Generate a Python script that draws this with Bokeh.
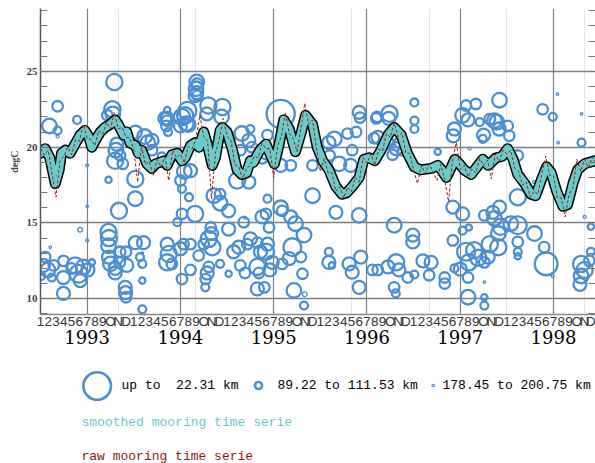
import numpy as np
from bokeh.plotting import figure
from bokeh.models import Range1d, LinearAxis, FixedTicker, Grid, ColumnDataSource
from bokeh.layouts import column
from bokeh.embed import file_html
from bokeh.resources import INLINE
from bokeh.core.properties import value

# ---------------- data ----------------
years = ["1993", "1994", "1995", "1996", "1997", "1998"]
month_labels = ["1", "2", "3", "4", "5", "6", "7", "8", "9", "O", "N", "D"]
y_ticks = [10, 15, 20, 25]

# smoothed mooring series (time in months since Jan 1993, degC)
smooth_t = [0.0, 0.6, 1.2, 1.9, 2.4, 2.7, 3.2, 3.8, 4.45, 5.1, 5.7, 6.2, 6.6, 7.0, 7.7, 8.3,
            8.95, 9.6, 10.0, 10.7, 11.1, 11.5, 12.2, 12.6, 13.0, 13.7, 14.3, 14.8, 15.9, 16.3,
            16.9, 17.6, 18.2, 18.6, 19.3, 19.9, 20.4, 21.0, 21.4, 22.1, 22.5, 23.1, 23.4, 24.0,
            24.7, 25.3, 25.9, 26.5, 27.0, 27.4, 28.1, 28.6, 29.0, 29.5, 30.1, 30.7, 31.3, 32.0,
            32.8, 33.5, 34.1, 35.0, 35.6, 36.3, 37.1, 38.0, 38.8, 39.4, 40.1, 41.0, 41.6, 42.3,
            43.0, 43.8, 44.7, 45.5, 46.4, 47.2, 48.1, 48.9, 50.3, 51.1, 51.6, 52.2, 52.6, 53.3,
            53.9, 54.5, 55.4, 56.3, 56.9, 57.6, 58.6, 59.4, 60.1, 60.8, 61.4, 62.3, 63.1, 63.7,
            64.4, 65.1, 65.7, 66.4, 67.2, 67.8, 68.5, 69.1, 70.0, 71.3, 72.0]
smooth_v = [19.6, 19.9, 19.3, 17.6, 18.5, 19.6, 19.8, 19.6, 20.2, 20.8, 21.1, 20.7, 20.0, 20.4,
            21.0, 21.3, 21.5, 21.8, 21.5, 20.8, 21.0, 20.3, 20.1, 19.6, 19.8, 18.9, 18.6, 18.9,
            19.1, 18.8, 19.5, 19.6, 19.1, 19.3, 20.1, 20.3, 20.0, 21.0, 20.3, 18.8, 19.3, 21.1,
            21.3, 21.0, 19.8, 18.5, 18.2, 18.3, 19.1, 19.0, 19.7, 20.0, 20.2, 19.6, 18.9, 20.2,
            21.8, 21.2, 19.7, 20.9, 22.1, 21.5, 20.0, 19.1, 18.5, 17.4, 16.9, 17.0, 17.4, 18.0,
            19.2, 19.3, 19.1, 19.8, 20.8, 21.3, 20.8, 19.6, 18.7, 18.5, 18.6, 18.8, 18.5, 18.0,
            18.4, 19.2, 18.9, 18.5, 18.2, 18.8, 19.2, 18.8, 19.3, 19.4, 19.9, 19.2, 18.2, 17.6,
            16.9, 16.8, 17.8, 18.7, 18.3, 17.1, 16.1, 16.2, 17.6, 18.5, 18.9, 19.1, 19.2]

# raw mooring series, sampled every half month from Jan 1993
raw_v = [19.9, 19.5, 19.8, 18.2, 16.7, 19.1, 19.4, 20.0, 19.5, 20.5, 20.4, 21.5, 20.6, 20.5,
         20.1, 21.1, 20.85, 21.65, 21.2, 22.3, 21.2, 21.3, 20.65, 20.6, 19.85, 17.7, 20.1, 18.85,
         19.05, 18.1, 19.2, 18.7, 19.35, 17.8, 19.8, 19.3, 19.55, 18.95, 20.05, 19.9, 20.55, 22.1,
         20.7, 20.4, 16.6, 19.6, 20.5, 21.9, 20.7, 20.45, 18.85, 18.7, 17.9, 18.6, 18.8, 19.4,
         19.3, 20.25, 19.9, 19.9, 18.0, 20.1, 20.7, 22.3, 20.9, 20.6, 19.7, 21.2, 22.9, 21.5,
         21.8, 19.95, 18.4, 19.25, 18.3, 18.3, 17.1, 17.4, 16.65, 17.35, 17.05, 18.0, 17.7, 19.3,
         18.95, 19.55, 18.8, 19.85, 19.75, 20.9, 20.65, 21.6, 20.7, 20.95, 19.6, 19.6, 18.5, 17.6,
         18.8, 18.25, 18.9, 18.35, 17.8, 18.85, 17.85, 16.4, 19.15, 20.3, 18.55, 18.8, 18.05, 18.55,
         18.3, 19.25, 18.8, 19.15, 17.9, 19.55, 19.05, 19.8, 19.55, 19.8, 18.6, 18.4, 17.5, 17.7,
         16.7, 17.1, 16.9, 18.25, 19.4, 18.15, 18.1, 16.65, 16.65, 15.4, 16.9, 17.3, 19.2, 18.4,
         19.2, 18.65, 19.35, 18.85]
raw_t = [k * 0.5 for k in range(len(raw_v))]

# observations: time (months since Jan 1993), temperature (degC), distance (km)
obs_t = [9.5, 2.2, 1.15, 2.2, 2.2, 4.7, 9.25, 9.3, 12.2, 13.4, 13.8, 9.7, 9.8, 9.6, 10.25, 10.6,
         8.75, 12.2, 12.2, 10.1, 6.0, 6.0, 5.1, 6.0, 1.25, 0.6, 0.95, 0.35, 1.7, 2.95, 2.95, 2.95,
         4.45, 4.9, 5.5, 6.1, 5.1, 6.6, 4.0, 1.45, 0.1, 8.75, 8.8, 8.75, 8.75, 9.0, 9.6, 9.6,
         10.25, 10.2, 11.0, 11.1, 12.2, 13.25, 12.8, 13.1, 13.1, 13.1, 13.1, 10.9, 10.95, 11.0,
         8.6, 16.3, 16.2, 18.9, 18.2, 19.0, 20.15, 20.1, 20.2,
         20.1, 20.0, 19.9, 21.6, 23.4, 23.3, 21.4, 18.6, 18.75, 18.0, 16.3, 16.3, 16.4, 16.0,
         14.35, 25.9, 27.0, 26.8, 24.2, 25.3, 26.8, 19.3, 18.2, 19.1, 23.1, 23.1, 24.2, 18.2,
         19.9, 17.6, 21.9, 22.0, 24.2, 26.15, 26.3, 28.5, 16.3, 16.5, 16.3, 16.9, 18.0, 18.4,
         19.3, 20.35, 21.0, 21.65, 22.1, 21.65, 21.45, 21.25, 21.2, 23.1, 24.2, 19.3, 18.2, 24.85,
         25.5, 26.6, 27.0, 27.9, 28.3, 27.9, 28.1, 27.9, 25.7, 26.3, 14.35, 15.6, 18.0, 18.5,
         25.7, 27.2, 28.5, 22.3,
         30.9, 41.0, 41.1, 40.6, 37.8, 39.5, 40.1, 38.4, 39.9, 35.0, 38.0, 41.0, 29.2, 29.0,
         31.1, 32.2, 32.8, 29.4, 33.9, 29.2, 29.0, 29.8, 29.5, 28.8, 32.4, 32.0, 33.5, 33.7,
         32.6, 33.9, 34.0, 31.1, 37.1, 37.1, 37.5, 39.7, 41.2, 40.1, 41.0, 42.7, 29.2, 29.0,
         30.9, 32.2, 35.0, 37.1, 37.2, 43.3, 42.9, 44.6, 30.9,
         48.1, 44.9, 44.8, 43.2, 43.4, 48.1, 48.1, 45.75, 45.3, 46.2, 51.1, 54.75, 56.0, 54.3,
         55.0, 53.25, 53.1, 56.5, 56.9, 57.8, 55.2, 53.05, 54.3, 57.1, 45.5, 47.9, 47.9, 53.05,
         54.3, 55.1, 43.4, 44.7, 45.75, 46.1, 45.5, 45.7, 47.25, 48.1, 49.2, 50.25, 50.0, 52.0,
         52.0, 53.25, 54.75, 55.8, 56.3, 55.1, 54.0, 55.0, 57.1, 55.0, 57.1, 57.1, 46.5,
         59.05, 58.4, 59.0, 60.1, 60.3, 64.6, 65.9, 66.5, 66.6, 69.6, 69.6, 61.4, 61.4, 63.5,
         59.05, 58.2, 58.4, 59.2, 60.5, 61.4, 58.9, 57.8, 58.9, 57.6, 61.4, 61.4, 61.4, 63.55,
         64.8, 65.05, 65.9, 69.55, 70.0, 69.55, 69.4, 70.6, 70.8, 70.0, 70.8, 57.1, 58.7, 57.0]
obs_v = [24.3, 22.7, 21.4, 21.1, 20.7, 21.8, 22.5, 22.2, 21.0, 20.7, 20.3, 19.8, 20.2, 19.1,
         19.45, 18.9, 17.85, 17.9, 16.6, 15.8, 18.8, 16.1, 14.55, 13.85, 13.4, 12.75, 11.9, 12.2,
         12.2, 12.5, 11.4, 10.35, 12.2, 11.65, 12.1, 11.9, 11.2, 12.4, 12.0, 11.4, 11.5, 14.4,
         14.0, 13.5, 12.75, 12.3, 12.0, 11.7, 13.1, 12.4, 13.1, 12.2, 13.7, 13.7, 12.75, 12.3,
         13.0, 11.2, 9.3, 10.75, 10.4, 10.1,
         22.1, 21.9, 21.4, 22.4, 22.0, 21.5, 24.2, 23.6, 23.4,
         24.3, 23.85, 23.4, 22.75, 22.65, 22.0, 22.2, 22.1, 21.55, 21.4, 21.75, 22.45, 21.0, 21.9,
         20.45, 20.9, 21.2, 20.45, 20.65, 17.8, 17.7, 18.45, 17.25, 16.7, 16.9, 16.3, 15.8, 15.6,
         15.6, 15.05, 14.7, 14.3, 14.6, 15.05, 15.35, 15.4, 13.6, 12.95, 12.4, 12.3, 13.3, 13.6,
         13.6, 12.85, 13.6, 13.95, 13.4, 12.1, 11.7, 11.3, 10.75, 12.3, 11.65, 11.9, 11.3, 13.1,
         13.4, 13.6, 13.95, 13.7, 13.1, 12.1, 11.7, 10.65, 12.2, 11.7, 19.8, 19.4, 17.8, 18.4,
         19.8, 20.0, 19.35, 16.8,
         22.2, 22.3, 21.95, 21.0, 20.55, 20.9, 19.8, 18.9, 18.8, 16.8, 15.7, 15.5, 16.6, 15.6,
         15.8, 15.4, 14.95, 14.7, 14.2, 13.6, 13.1, 12.4, 11.9, 10.75, 13.4, 12.65, 12.75, 11.65,
         10.55, 9.55, 10.3, 12.3, 13.1, 12.4, 12.2, 12.3, 12.75, 11.75, 10.75, 11.9, 20.8, 19.55,
         18.8, 18.8, 18.8, 20.3, 19.45, 22.0, 20.6, 20.3, 16.0,
         22.95, 22.2, 21.9, 21.9, 20.65, 21.75, 21.2, 19.9, 19.5, 20.3, 19.7, 22.75, 22.85, 22.1,
         21.8, 21.2, 20.75, 21.65, 20.55, 21.85, 19.9, 16.05, 15.6, 15.5, 14.85, 14.2, 13.75, 13.85,
         14.5, 14.7, 11.9, 12.1, 12.4, 11.9, 10.75, 10.35, 11.4, 11.6, 12.5, 12.4, 11.55, 11.4,
         11.0, 12.0, 13.1, 13.2, 12.7, 12.4, 11.95, 11.4, 12.4, 10.1, 9.55, 11.1, 19.7,
         23.1, 21.75, 21.2, 21.4, 20.75, 22.5, 22.0, 23.5, 20.3, 22.2, 20.3, 19.45, 16.7, 17.7,
         16.05, 15.7, 15.3, 14.75, 14.95, 14.85, 14.3, 13.6, 13.4, 12.75, 13.75, 13.1, 12.8, 14.3,
         13.4, 12.3, 11.5, 12.3, 11.9, 11.5, 10.95, 12.5, 13.1, 15.4, 14.75, 10.1, 21.65, 20.8]
obs_km = [50, 79, 57, 97, 150, 97, 50, 57, 65, 57, 57, 57, 65, 50, 79, 79, 111, 50, 57, 50,
          150, 173, 127, 150, 173, 79, 57, 65, 79, 79, 65, 65, 50, 43, 57, 65, 65, 111, 79, 97,
          97, 50, 50, 57, 65, 57, 65, 65, 79, 79, 79, 65, 65, 65, 97, 97, 173, 111, 97, 65,
          65, 79,
          79, 65, 79, 43, 50, 57, 79, 65, 79,
          57, 57, 65, 50, 50, 57, 65, 50, 57, 65, 79, 111, 97, 65, 65, 57, 97, 65, 65, 50,
          65, 65, 97, 97, 79, 57, 65, 79, 50, 97, 79, 65, 65, 79, 150, 65, 65, 50, 50, 79,
          65, 79, 79, 79, 79, 50, 50, 79, 65, 79, 97, 97, 111, 79, 79, 65, 65, 79, 65, 79,
          65, 50, 79, 65, 79, 79, 79, 97, 79, 57, 79, 79, 65, 57,
          11, 65, 79, 79, 57, 79, 79, 57, 65, 57, 65, 57, 97, 79, 79, 65, 57, 79, 57, 65,
          50, 65, 65, 79, 43, 65, 79, 79, 57, 97, 127, 79, 97, 65, 111, 65, 65, 65, 65, 79,
          79, 79, 65, 79, 79, 65, 79, 79, 79, 65, 57,
          97, 50, 65, 79, 65, 97, 97, 65, 79, 79, 111, 79, 79, 57, 65, 65, 65, 97, 97, 79,
          150, 65, 65, 79, 57, 65, 65, 79, 97, 111, 79, 65, 50, 65, 79, 97, 79, 97, 65, 65,
          79, 79, 79, 97, 43, 50, 50, 50, 65, 79, 79, 57, 97, 173, 97,
          57, 57, 65, 79, 79, 79, 97, 173, 173, 173, 97, 79, 50, 150, 65, 65, 57, 50, 57, 43,
          57, 50, 50, 65, 79, 97, 111, 57, 79, 26, 150, 50, 50, 57, 65, 79, 97, 150, 111, 111,
          57, 65]

legend_bins = [(0.0, 22.31, "up to \u00a022.31 km"), (89.22, 111.53, "89.22 to 111.53 km"),
               (178.45, 200.75, "178.45 to 200.75 km")]

# ---------------- styling helpers ----------------
BLUE = "#4A8FD4"
CYAN = "#66CCCC"
RED = "#9E1B1B"
GRID = "#7F7F7F"


def outer_radius(km):
    return 15.0 * 0.75 ** ((np.asarray(km, dtype=float) - 11.155) / 22.31)


r_obs = outer_radius(obs_km)
size_obs = np.maximum(2 * r_obs - 2.0, 2.5)
lw_obs = np.where(size_obs > 6, 2.3, 1.3)

# ---------------- main figure ----------------
p = figure(width=595, height=360, x_range=Range1d(0, 71.4), y_range=Range1d(8.96, 29.15),
           output_backend="svg", toolbar_location=None,
           x_axis_location=None, y_axis_location=None,
           min_border_left=40, min_border_right=0, min_border_top=8, min_border_bottom=46)
p.outline_line_color = None
p.background_fill_color = "white"
p.border_fill_color = "white"

left = LinearAxis(ticker=FixedTicker(ticks=y_ticks, minor_ticks=list(range(9, 30))),
                  axis_label="degC")
left.major_tick_in = 8
left.major_tick_out = 0
left.minor_tick_in = 7
left.minor_tick_out = 0
left.axis_line_color = "#555555"
left.axis_line_width = 1.5
left.major_tick_line_color = "#777777"
left.minor_tick_line_color = "#777777"
left.minor_tick_line_width = 1.2
left.major_label_text_font = "Liberation Serif"
left.major_label_text_font_style = "bold"
left.major_label_text_font_size = "11px"
left.major_label_standoff = 3
left.axis_label_text_font = "Liberation Serif"
left.axis_label_text_font_style = "bold"
left.axis_label_text_font_size = "10px"
left.axis_label_standoff = 4
p.add_layout(left, "left")

# right frame edge: inward ticks only, no labels
right = LinearAxis(ticker=FixedTicker(ticks=[], minor_ticks=list(range(9, 30))))
right.major_tick_in = 0
right.major_tick_out = 0
right.minor_tick_in = 7
right.minor_tick_out = 0
right.major_label_standoff = 0
right.axis_line_color = "#555555"
right.minor_tick_line_color = "#777777"
right.minor_tick_line_width = 1.2
p.add_layout(right, "right")

n_months = 12 * len(years)
month_axis = LinearAxis(ticker=FixedTicker(ticks=list(range(n_months))),
                        major_label_overrides={i: month_labels[i % 12] for i in range(n_months)})
month_axis.major_tick_in = 0
month_axis.major_tick_out = 0
month_axis.minor_tick_in = 0
month_axis.minor_tick_out = 0
month_axis.axis_line_color = "#888888"
month_axis.axis_line_width = 1.5
month_axis.major_label_standoff = -1
month_axis.major_label_text_font = "Liberation Sans"
month_axis.major_label_text_font_size = "13.5px"
month_axis.major_label_text_color = "#333333"
p.add_layout(month_axis, "below")

year_ticks = [12 * i + 6 for i in range(len(years))]
year_axis = LinearAxis(ticker=FixedTicker(ticks=year_ticks),
                       major_label_overrides={t: y for t, y in zip(year_ticks, years)})
year_axis.major_tick_in = 0
year_axis.major_tick_out = 0
year_axis.minor_tick_in = 0
year_axis.minor_tick_out = 0
year_axis.axis_line_color = None
year_axis.major_label_standoff = -2
year_axis.major_label_text_font = "DejaVu Serif"
year_axis.major_label_text_font_size = "18px"
year_axis.major_label_text_color = "black"
p.add_layout(year_axis, "below")

p.add_layout(Grid(dimension=0, ticker=FixedTicker(ticks=year_ticks),
                  grid_line_color=GRID, grid_line_width=1.2))
p.add_layout(Grid(dimension=1, ticker=FixedTicker(ticks=y_ticks),
                  grid_line_color=GRID, grid_line_width=1.5))

src = ColumnDataSource(dict(t=obs_t, v=obs_v, s=size_obs, lw=lw_obs))
p.scatter("t", "v", source=src, marker="circle", size="s", fill_color=None,
          line_color=BLUE, line_width="lw")

p.line(smooth_t, smooth_v, line_color="black", line_width=11, line_join="round", line_cap="round")
p.line(smooth_t, smooth_v, line_color=CYAN, line_width=8, line_join="round", line_cap="round")
p.line(raw_t, raw_v, line_color=RED, line_width=1, line_dash="3 2")

# ---------------- legend figure (frame aligned with the main frame) ----------------
leg = figure(width=595, height=103, x_range=Range1d(40, 595), y_range=Range1d(103, 0),
             output_backend="svg", toolbar_location=None,
             x_axis_location=None, y_axis_location=None,
             min_border_left=40, min_border_right=0, min_border_top=0, min_border_bottom=0)
leg.outline_line_color = None
leg.xgrid.visible = False
leg.ygrid.visible = False
leg.background_fill_color = "white"
leg.border_fill_color = "white"

bin_centers = [(a + b) / 2 for a, b, _ in legend_bins]
r_leg = outer_radius(bin_centers)
size_leg = np.maximum(2 * r_leg - 2.4, 2.5)
lw_leg = np.where(size_leg > 6, 2.6, 1.2)
leg_x = [96.7, 258.0, 432.7]
leg_src = ColumnDataSource(dict(x=leg_x, y=[25.5, 25.0, 25.0], s=size_leg, lw=lw_leg))
leg.scatter("x", "y", source=leg_src, marker="circle", size="s", fill_color=None,
            line_color=BLUE, line_width="lw")
leg.text(x=[121.0, 277.0, 442.0], y=[25.0, 25.0, 25.0], text=[b[2] for b in legend_bins],
         text_font=value("Liberation Mono"), text_font_size="13px", text_baseline="middle",
         text_align="left", text_color="black")
leg.text(x=[81.0], y=[61.7], text=["smoothed mooring time serie"],
         text_font=value("Liberation Mono"), text_font_size="13px", text_baseline="middle",
         text_align="left", text_color="#6FC6CF")
leg.text(x=[81.0], y=[95.5], text=["raw mooring time serie"],
         text_font=value("Liberation Mono"), text_font_size="13px", text_baseline="middle",
         text_align="left", text_color="#8B1A1A")

layout = column(p, leg, spacing=0)
open("out.html", "w").write(file_html(layout, INLINE))
